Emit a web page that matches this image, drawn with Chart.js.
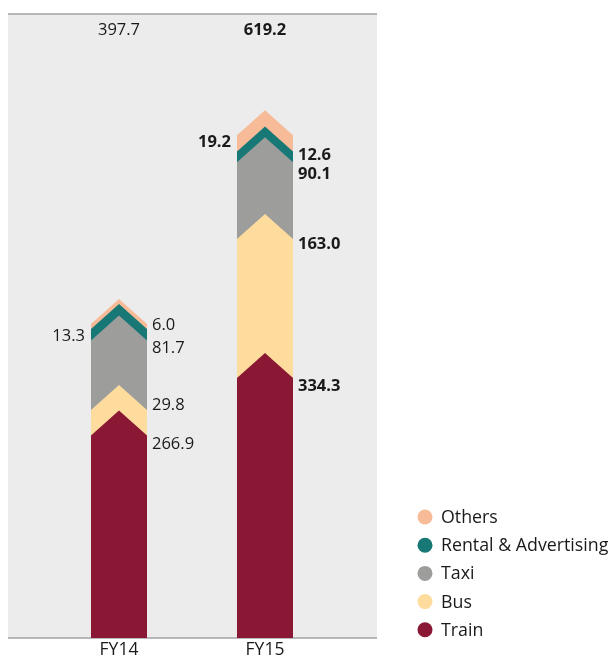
<!DOCTYPE html>
<html>
<head>
<meta charset="utf-8">
<script src="https://cdn.jsdelivr.net/npm/chart.js@4/dist/chart.umd.min.js"></script>
<style>
  html, body { margin: 0; padding: 0; background: #ffffff; }
  #wrap { width: 614px; height: 661px; }
</style>
</head>
<body>
<div id="wrap"><canvas id="c" width="614" height="661"></canvas></div>
<script>
// Revenue by business segment (S$ million)
const categories = ['FY14', 'FY15'];
const train  = [266.9, 334.3];
const bus    = [29.8, 163.0];
const taxi   = [81.7, 90.1];
const rental = [13.3, 12.6];
const others = [6.0, 19.2];

const seriesNames  = ['Train', 'Bus', 'Taxi', 'Rental & Advertising', 'Others'];
const seriesValues = [train, bus, taxi, rental, others];
const seriesColors = ['#8A1834', '#FDDC9E', '#9D9D9B', '#177876', '#F7BB98'];

const FONT = '"Open Sans", Lato, sans-serif';
const PLOT_BG = '#ECECEC';
const RULE = '#A3A3A3';

// Which side of the column each value label sits on, and a small vertical
// nudge (px) from the segment's shoulder so neighbouring labels don't collide.
const labelSide = [
  ['right', 'right'],   // Train
  ['right', 'right'],   // Bus
  ['right', 'right'],   // Taxi
  ['left',  'right'],   // Rental & Advertising
  ['right', 'left']     // Others
];
const labelDy = [
  [8.5, 8],
  [-5, 5],
  [8, 12],
  [7, 3.5],
  [1, 7]
];
const labelWeight = ['normal', 'bold'];

const chevronPlugin = {
  id: 'chevronColumns',
  beforeDraw(chart) {
    const { ctx, chartArea: a } = chart;
    const left = a.left - 38, right = a.right + 39;
    ctx.save();
    ctx.fillStyle = PLOT_BG;
    ctx.fillRect(left, a.top, right - left, a.bottom - a.top);
    ctx.strokeStyle = RULE;
    ctx.lineWidth = 1.5;
    ctx.beginPath();
    ctx.moveTo(left, a.top); ctx.lineTo(right, a.top);
    ctx.moveTo(left, a.bottom); ctx.lineTo(right, a.bottom);
    ctx.stroke();
    ctx.restore();
  },
  beforeDatasetsDraw(chart) {
    const { ctx } = chart;
    const zero = chart.scales.y.getPixelForValue(0);
    ctx.save();
    // paint from the top segment down so each lower chevron overlaps the one above
    for (let i = chart.data.datasets.length - 1; i >= 0; i--) {
      const meta = chart.getDatasetMeta(i);
      ctx.fillStyle = chart.data.datasets[i].backgroundColor;
      meta.data.forEach(el => {
        const w = el.width, h = w * 25 / 56;
        const l = el.x - w / 2, r = el.x + w / 2;
        ctx.beginPath();
        ctx.moveTo(l, el.y + h);
        ctx.lineTo(el.x, el.y);
        ctx.lineTo(r, el.y + h);
        ctx.lineTo(r, zero);
        ctx.lineTo(l, zero);
        ctx.closePath();
        ctx.fill();
      });
    }
    ctx.restore();
    return false;
  },
  afterDraw(chart) {
    const { ctx, chartArea: a } = chart;
    ctx.save();
    ctx.textBaseline = 'middle';
    // segment value labels
    chart.data.datasets.forEach((ds, i) => {
      const meta = chart.getDatasetMeta(i);
      meta.data.forEach((el, j) => {
        const w = el.width, h = w * 25 / 56;
        const side = labelSide[i][j];
        const y = el.y + h + labelDy[i][j];
        ctx.font = labelWeight[j] + ' 16.5px ' + FONT;
        ctx.fillStyle = '#1a1a1a';
        if (side === 'right') {
          ctx.textAlign = 'left';
          ctx.fillText(ds.data[j].toFixed(1), el.x + w / 2 + 5, y);
        } else {
          ctx.textAlign = 'right';
          ctx.fillText(ds.data[j].toFixed(1), el.x - w / 2 - 6, y);
        }
      });
    });
    // column totals along the top
    const topMeta = chart.getDatasetMeta(chart.data.datasets.length - 1);
    topMeta.data.forEach((el, j) => {
      const total = seriesValues.reduce((s, arr) => s + arr[j], 0);
      ctx.font = labelWeight[j] + ' 16.5px ' + FONT;
      ctx.textAlign = 'center';
      ctx.fillStyle = '#1a1a1a';
      ctx.fillText(total.toFixed(1), el.x, a.top + 16);
    });
    // legend, top-most series first
    const lx = a.right + 87, ly0 = 517, step = 28.2;
    ctx.font = 'normal 17.8px ' + FONT;
    ctx.textAlign = 'left';
    for (let k = 0; k < seriesNames.length; k++) {
      const i = seriesNames.length - 1 - k;
      const y = ly0 + k * step;
      ctx.fillStyle = seriesColors[i];
      ctx.beginPath();
      ctx.arc(lx, y, 7.5, 0, Math.PI * 2);
      ctx.fill();
      ctx.fillStyle = '#1a1a1a';
      ctx.fillText(seriesNames[i], lx + 16, y + 1);
    }
    ctx.restore();
  }
};

new Chart(document.getElementById('c'), {
  type: 'bar',
  data: {
    labels: categories,
    datasets: seriesNames.map((name, i) => ({
      label: name,
      data: seriesValues[i],
      backgroundColor: seriesColors[i],
      borderWidth: 0,
      categoryPercentage: 0.3836,
      barPercentage: 1
    }))
  },
  options: {
    responsive: false,
    animation: false,
    layout: { padding: { left: 46, right: 276, top: 14, bottom: -2 } },
    plugins: { legend: { display: false }, tooltip: { enabled: false } },
    scales: {
      x: {
        stacked: true,
        grid: { display: false, drawTicks: false },
        border: { display: false },
        ticks: { font: { family: FONT, size: 17.5 }, color: '#1a1a1a', padding: 2 }
      },
      y: { stacked: true, display: false, min: 0, max: 732 }
    }
  },
  plugins: [chevronPlugin]
});
</script>
</body>
</html>
